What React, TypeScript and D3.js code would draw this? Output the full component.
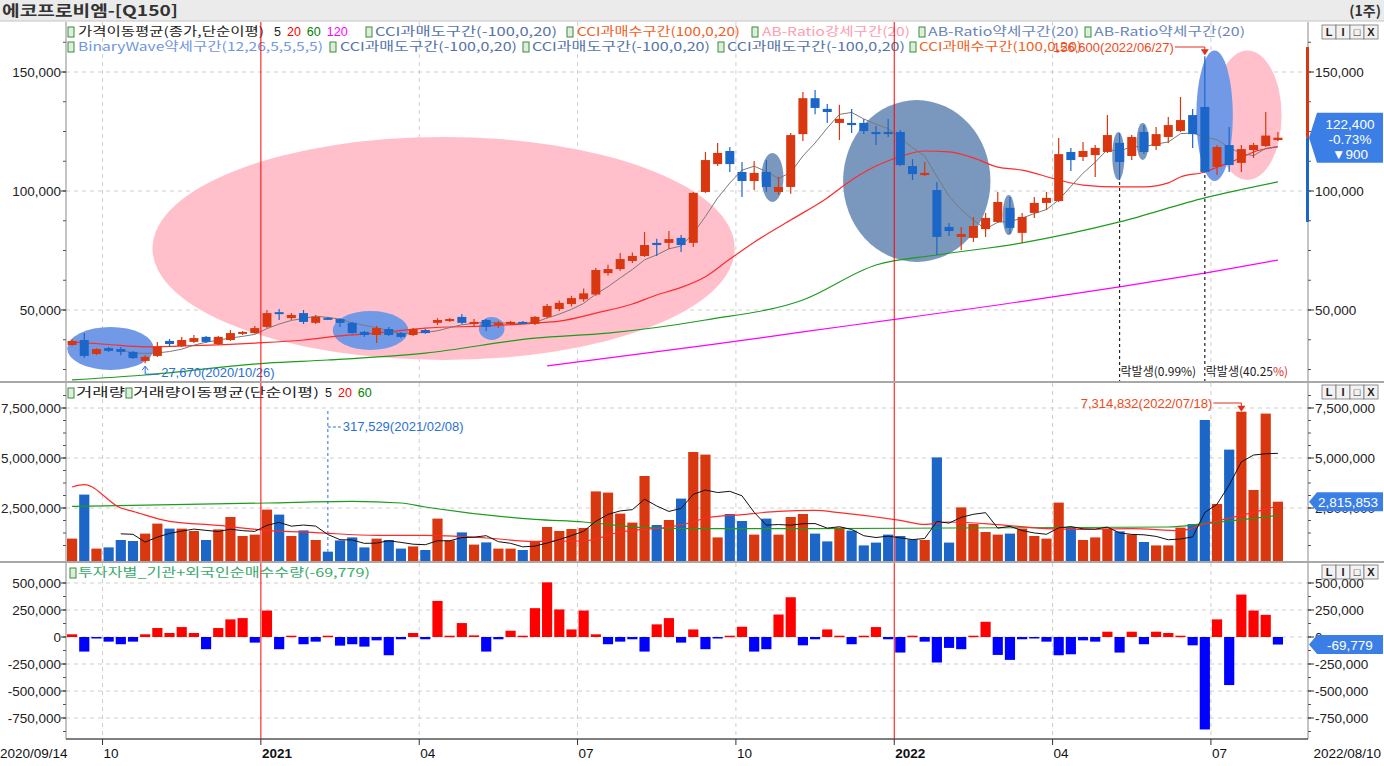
import React from "react";
import * as d3 from "d3";

// ---------------- DATA ----------------
const startLabel = "2020/09/14";
const endLabel = "2022/08/10";
const startDate = "2020-09-14";

const openP = [
  35300, 37400, 31500, 34000, 33600, 32400, 28600, 30700, 37000, 34900,
  36600, 38700, 35700, 37400, 40000, 40300, 42900, 49100, 46600, 48700,
  44600, 46700, 46200, 44600, 40800, 39500, 42000, 40300, 39500, 41600,
  44600, 45400, 47100, 44100, 45800, 44100, 44100, 45000, 44200, 47100,
  50400, 52500, 54500, 56500, 65500, 67200, 70600, 72700, 78200, 78200,
  80300, 78200, 99600, 111300, 116800, 108000, 104200, 108000, 99600, 101700,
  123900, 139000, 134500, 128600, 128600, 128600, 124800, 124800, 124800, 110500,
  106700, 100400, 84900, 80700, 80300, 84000, 87000, 92900, 82400, 90800,
  95000, 95800, 116400, 114300, 115100, 116400, 120200, 114700, 124800, 118900,
  122700, 125200, 131900, 135300, 110100, 119300, 111800, 117200, 118900, 121400,
];
const highP = [
  37800, 40300, 34000, 34500, 34500, 32800, 31000, 36600, 37800, 38700,
  39500, 39100, 39100, 41600, 41200, 43300, 50000, 50400, 48700, 50000,
  47900, 47100, 46600, 45000, 41200, 43300, 42900, 40800, 42400, 42000,
  46600, 46600, 48300, 46200, 46200, 45400, 45400, 45400, 47500, 52500,
  54000, 56000, 59000, 67600, 69000, 74000, 74200, 82800, 79900, 83200,
  81500, 99600, 116400, 120200, 118500, 112200, 112600, 113000, 105900, 124400,
  141600, 142400, 136600, 136200, 134500, 130300, 127300, 130300, 125600, 113400,
  112200, 103800, 86600, 84900, 89100, 90800, 99600, 97500, 90800, 97500,
  99600, 122300, 118100, 120600, 119300, 131900, 124400, 123500, 127700, 126900,
  131100, 139500, 134500, 156600, 119300, 126900, 119300, 120200, 133200, 124800,
];
const lowP = [
  34900, 29800, 31000, 32400, 31000, 29400, 27670, 30300, 34500, 34500,
  36100, 36100, 35300, 37000, 39500, 40000, 42400, 45800, 45800, 44100,
  44100, 45800, 42900, 40000, 38700, 36100, 39100, 38200, 39100, 40000,
  43700, 45000, 44100, 42900, 41200, 42400, 43700, 44100, 43700, 46600,
  49600, 51500, 53500, 56000, 64500, 66500, 69800, 72300, 72700, 75600,
  74400, 76500, 99200, 110500, 108000, 97500, 100400, 99600, 98400, 98800,
  121000, 132300, 128600, 121400, 124400, 123900, 119300, 122700, 110500, 104600,
  106300, 73100, 81100, 75200, 78600, 80700, 86600, 81900, 78200, 88700,
  92000, 95400, 108400, 112600, 105900, 116000, 104600, 113000, 115500, 117200,
  120200, 124800, 118100, 107600, 106700, 108000, 108000, 113900, 118500, 121000,
];
const closeP = [
  37000, 30700, 33600, 32800, 32400, 29800, 30300, 34500, 35700, 37400,
  38200, 36600, 38700, 40300, 40800, 42400, 48700, 48300, 47900, 45000,
  47100, 46200, 44600, 40300, 39500, 42400, 39500, 38700, 42000, 40300,
  45800, 46200, 44600, 45000, 42900, 44600, 45000, 44600, 47100, 51700,
  53000, 55000, 57000, 66800, 67200, 71400, 72700, 77300, 77300, 79800,
  77300, 99200, 113000, 116000, 111300, 104200, 107600, 101700, 101700, 123500,
  139000, 134900, 133200, 130300, 127700, 125200, 123900, 123900, 110900, 107100,
  107600, 80700, 83200, 81900, 85300, 88700, 95400, 84500, 89100, 95000,
  97100, 115500, 113000, 116800, 118100, 123500, 112200, 122700, 116400, 123900,
  127700, 129800, 123900, 108000, 118500, 110900, 117600, 119300, 123300, 122400,
];
const volume = [
  970000, 3170000, 470000, 530000, 900000, 850000, 1220000, 1720000, 1470000, 1470000,
  1350000, 900000, 1430000, 2050000, 1100000, 1170000, 2420000, 2170000, 1100000, 1380000,
  900000, 317529, 880000, 1030000, 530000, 970000, 900000, 470000, 580000, 400000,
  1970000, 880000, 1280000, 670000, 780000, 470000, 470000, 400000, 850000, 1550000,
  1350000, 1450000, 1500000, 3330000, 3270000, 2220000, 1770000, 4100000, 1650000, 1900000,
  2970000, 5300000, 5170000, 1030000, 2200000, 1850000, 1170000, 1970000, 1170000, 2050000,
  2200000, 1220000, 830000, 1520000, 1370000, 630000, 770000, 1170000, 1100000, 930000,
  900000, 5030000, 770000, 2530000, 1700000, 1300000, 1170000, 1220000, 1470000, 1100000,
  970000, 2770000, 1550000, 900000, 1030000, 1470000, 1330000, 1170000, 800000, 630000,
  630000, 1520000, 1700000, 6900000, 2700000, 5420000, 7314832, 3400000, 7220000, 2815853,
];
const investor = [
  25000, -135000, -9000, -43000, -67000, -43000, 25000, 83000, 37000, 92000,
  37000, -113000, 83000, 163000, 175000, -52000, 245000, -113000, 12000, -67000,
  -43000, 12000, -80000, -67000, -89000, -31000, -169000, -21000, 37000, -21000,
  334000, 12000, 129000, 15000, -135000, -21000, 58000, 12000, 267000, 506000,
  255000, 70000, 245000, 25000, -67000, -43000, -21000, -135000, 117000, 175000,
  -52000, 70000, -113000, -5000, 12000, 95000, -135000, -113000, 208000, 368000,
  -77000, -21000, 70000, 12000, -67000, 12000, 92000, -21000, -144000, 12000,
  -43000, -236000, -101000, -113000, 12000, 141000, -166000, -212000, -21000, -6000,
  -43000, -169000, -160000, -31000, -43000, 49000, -144000, 49000, -67000, 49000,
  37000, 12000, -77000, -856000, 163000, -445000, 393000, 245000, 205000, -69779,
];

// moving averages: [week index, value]
const priceMA20: [number, number][] = [
  [0, 36600], [3, 35500], [6, 34500], [10, 35000], [15, 36100], [19, 37400], [22, 39100],
  [25, 40300], [29, 42400], [34, 43300], [38, 44500], [40, 45300], [43, 48700], [46, 52500],
  [48, 56300], [50, 59500], [52, 64000], [54, 71400], [56, 78500], [59, 87800], [62, 97100],
  [64, 104600], [66, 110500], [68, 114500], [70, 116800], [72, 116400], [74, 113900],
  [76, 110000], [78, 108800], [81, 104600], [83, 102500], [86, 101700], [88, 101700],
  [90, 103400], [91, 105900], [93, 108000], [94, 110000], [96, 114000], [97, 116400], [99, 118500],
];
const priceMA60: [number, number][] = [
  [0, 20600], [6, 22700], [16, 27700], [21, 29000], [29, 31900], [38, 38200], [44, 40300],
  [52, 45800], [60, 54200], [66, 68900], [71, 73100], [78, 78200], [86, 87000], [93, 97100], [99, 103800],
];
const priceMA120: [number, number][] = [
  [39, 26500], [52, 35100], [60, 40800], [68, 46400], [76, 52100], [86, 59700], [93, 65500], [99, 71000],
];
const volMA20: [number, number][] = [
  [0, 3550000], [1, 3670000], [4, 2500000], [5, 2330000], [8, 1830000], [12, 1630000], [16, 1380000],
  [20, 1270000], [25, 1130000], [29, 1130000], [34, 1000000], [38, 830000], [42, 850000], [45, 1300000],
  [49, 1550000], [51, 1800000], [52, 2000000], [55, 2170000], [58, 2330000], [61, 2380000], [63, 2270000],
  [68, 1880000], [70, 1680000], [72, 1800000], [76, 1670000], [80, 1470000], [83, 1430000], [87, 1470000],
  [91, 1370000], [93, 1700000], [96, 2130000], [99, 2600000],
];
const volMA60: [number, number][] = [
  [0, 2580000], [16, 2750000], [23, 2830000], [27, 2750000], [29, 2550000], [38, 1930000], [42, 1800000],
  [47, 1520000], [51, 1470000], [61, 1470000], [72, 1500000], [90, 1550000], [93, 1720000], [99, 2130000],
];

// signal zones (week-index range, price range)
const zones = [
  { from: 6.6, to: 54.4, hi: 122700, lo: 29000, kind: "pink" },
  { from: -0.4, to: 6.7, hi: 42900, lo: 24800, kind: "blue" },
  { from: 21.4, to: 27.6, hi: 49600, lo: 33200, kind: "blue" },
  { from: 33.4, to: 35.5, hi: 47100, lo: 37400, kind: "blue" },
  { from: 56.6, to: 58.4, hi: 116000, lo: 95400, kind: "slate" },
  { from: 63.3, to: 75.4, hi: 138200, lo: 70200, kind: "slate" },
  { from: 76.4, to: 77.4, hi: 98300, lo: 81500, kind: "slate" },
  { from: 85.4, to: 86.4, hi: 124800, lo: 104600, kind: "slate" },
  { from: 87.4, to: 88.4, hi: 128600, lo: 113000, kind: "slate" },
  { from: 93.7, to: 99.3, hi: 159000, lo: 104600, kind: "pink" },
  { from: 92.3, to: 95.3, hi: 159000, lo: 104200, kind: "blue" },
];

const monthTickIdx = [3, 16, 29, 42, 55, 68, 81, 94];
const monthTickLabels = ["10", "2021", "04", "07", "10", "2022", "04", "07"];
const yearTickIdx = [16, 68];
const priceTicks = [50000, 100000, 150000];
const volTicks = [2500000, 5000000, 7500000];
const invTicks = [-750000, -500000, -250000, 0, 250000, 500000];

const lowDate = "2020/10/26";
const highDate = "2022/06/27";
const volMaxDate = "2022/07/18";
const volMinDate = "2021/02/08";
const rightsIdx = [86, 93];
const rightsLabels = ["락발생(0.99%)", "락발생(40.25%)"];
const currentPrice = 122400;
const priceChange = -900;
const priceChangePct = "-0.73%";
const rangeBar = [87000, 122400, 160500];

// ---------------- STYLE ----------------
const RED = "#d9370f";
const BLUE = "#1c66c8";
const KF = "'Noto Sans CJK KR', 'Noto Sans', sans-serif";
const NF = "'Liberation Sans', Arial, sans-serif";
const zoneFill: Record<string, string> = { pink: "#ffc0cb", blue: "#7299e6", slate: "#7a97bd" };

const fmt = (v: number) => d3.format(",")(v).replace("\u2212", "-");
const weekIndex = (s: string) =>
  Math.round((new Date(s.replace(/\//g, "-")).getTime() - new Date(startDate).getTime()) / (7 * 864e5));

function Buttons({ y }: { y: number }) {
  const glyphs = ["L", "I", "\u25A1", "X"];
  return (
    <g>
      {glyphs.map((g, k) => (
        <g key={k}>
          <rect x={1322 + k * 14} y={y} width={14} height={14} fill="#f2f2f2" stroke="#777" strokeWidth={0.8} />
          <text x={1329 + k * 14} y={y + 11} fontSize={11} fontFamily={NF} textAnchor="middle" fill="#222" fontWeight="bold">{g}</text>
        </g>
      ))}
    </g>
  );
}

function Icon({ x, y }: { x: number; y: number }) {
  return <rect x={x} y={y - 9} width={6} height={10} fill="#dcefdc" stroke="#3c8c3c" strokeWidth={1} />;
}

export default function App() {
  const N = closeP.length;
  const L = 66, R = 1308;
  const PT = 22, PB = 381, VT = 383, VB = 561, IT = 563, IB = 739;

  const x = d3.scaleBand<number>().domain(d3.range(N)).range([66, 1284]);
  const bw = x.bandwidth();
  const cx = (i: number) => (x(i) as number) + bw / 2;
  const xi = d3.scaleLinear().domain([0, N - 1]).range([cx(0), cx(N - 1)]);
  const yP = d3.scaleLinear().domain([50000, 150000]).range([310, 72]);
  const yV = d3.scaleLinear().domain([0, 7500000]).range([558, 408]);
  const yI = d3.scaleLinear().domain([-750000, 500000]).range([718, 583]);

  const ma = (a: number[], n: number) =>
    a.map((_, i) => (i < n - 1 ? null : (d3.mean(a.slice(i - n + 1, i + 1)) as number)));
  const ma5P = ma(closeP, 5);
  const ma5V = ma(volume, 5);

  const idxLine = (ys: (v: number) => number) =>
    d3.line<number | null>().defined((d) => d != null).x((_, i) => cx(i)).y((d) => ys(d as number));
  const ptLine = (ys: (v: number) => number) =>
    d3.line<[number, number]>().x((d) => xi(d[0])).y((d) => ys(d[1])).curve(d3.curveMonotoneX);

  const up = (i: number) => closeP[i] >= openP[i];
  const cw = 9;
  const vw = bw - 2;

  const lowIdx = weekIndex(lowDate);
  const highIdx = weekIndex(highDate);
  const vMaxIdx = weekIndex(volMaxDate);
  const vMinIdx = weekIndex(volMinDate);

  const priceMinor = d3.range(25000, 170000, 12500);
  const volMinor = d3.range(625000, 8200000, 625000);
  const invMinor = d3.range(-875000, 560000, 125000);

  const LFS = 12;
  const row1 = [
    { x: 78, t: "가격이동평균(종가,단순이평)", c: "#222", w: 186 },
    { icon: 366, x: 375, t: "CCI과매도구간(-100,0,20)", c: "#5573a8", w: 182 },
    { icon: 567, x: 577, t: "CCI과매수구간(100,0,20)", c: "#f2601e", w: 163 },
    { icon: 752, x: 762, t: "AB-Ratio강세구간(20)", c: "#ff9db0", w: 148 },
    { icon: 919, x: 928, t: "AB-Ratio약세구간(20)", c: "#6a86b8", w: 151 },
    { icon: 1085, x: 1094, t: "AB-Ratio약세구간(20)", c: "#6a86b8", w: 151 },
  ];
  const row2 = [
    { icon: 68, x: 78, t: "BinaryWave약세구간(12,26,5,5,5,5)", c: "#7096e0", w: 245 },
    { icon: 330, x: 340, t: "CCI과매도구간(-100,0,20)", c: "#5573a8", w: 177 },
    { icon: 523, x: 532, t: "CCI과매도구간(-100,0,20)", c: "#5573a8", w: 178 },
    { icon: 718, x: 727, t: "CCI과매도구간(-100,0,20)", c: "#5573a8", w: 178 },
    { icon: 910, x: 919, t: "CCI과매수구간(100,0,20)", c: "#f2601e", w: 163 },
  ];

  const priceBoxY = yP(currentPrice);
  const volBoxY = yV(volume[N - 1]);
  const invBoxY = yI(investor[N - 1]);
  const tagPath = (yc: number, h: number) =>
    `M1309,${yc} L1317,${yc - h / 2} L1383,${yc - h / 2} L1383,${yc + h / 2} L1317,${yc + h / 2} Z`;

  return (
    <svg width={1384} height={766} style={{ position: "absolute", left: 0, top: 0, background: "#fff" }}>
      <defs>
        <clipPath id="cp"><rect x={L} y={PT} width={R - L} height={PB - PT} /></clipPath>
        <clipPath id="cv"><rect x={L} y={VT} width={R - L} height={VB - VT} /></clipPath>
        <clipPath id="ci"><rect x={L} y={IT} width={R - L} height={IB - IT} /></clipPath>
      </defs>
      <rect x={0} y={0} width={1384} height={766} fill="#fff" />
      {/* title bar */}
      <rect x={0} y={0} width={1384} height={21} fill="#ebebeb" />
      <line x1={0} x2={1384} y1={21} y2={21} stroke="#c4c4c4" />
      <text x={2} y={16} fontFamily={KF} fontSize={15} fontWeight="bold" fill="#333" textLength={176} lengthAdjust="spacingAndGlyphs">에코프로비엠-[Q150]</text>
      <text x={1381} y={16} fontFamily={KF} fontSize={14} fontWeight="bold" fill="#333" textAnchor="end">(1주)</text>

      {/* horizontal grids */}
      {priceTicks.map((t) => (
        <line key={"gp" + t} x1={L} x2={R} y1={yP(t)} y2={yP(t)} stroke="#cfcfcf" strokeDasharray="4,4" />
      ))}
      {volTicks.map((t) => (
        <line key={"gv" + t} x1={L} x2={R} y1={yV(t)} y2={yV(t)} stroke="#cfcfcf" strokeDasharray="4,4" />
      ))}
      {invTicks.map((t) => (
        <line key={"gi" + t} x1={L} x2={R} y1={yI(t)} y2={yI(t)} stroke="#cfcfcf" strokeDasharray="4,4" />
      ))}
      {/* vertical month grids */}
      {monthTickIdx.map((ti, k) =>
        yearTickIdx.includes(ti) ? null : (
          <g key={"vg" + k}>
            {[[PT, PB], [VT, VB], [IT, IB]].map(([a, b], j) => (
              <line key={j} x1={x(ti)} x2={x(ti)} y1={a} y2={b} stroke="#cfcfcf" strokeDasharray="4,4" />
            ))}
          </g>
        )
      )}

      {/* ---------- price panel ---------- */}
      <g clipPath="url(#cp)">
        {zones.map((z, k) => (
          <ellipse
            key={"z" + k}
            cx={(xi(z.from) + xi(z.to)) / 2}
            cy={(yP(z.hi) + yP(z.lo)) / 2}
            rx={(xi(z.to) - xi(z.from)) / 2}
            ry={(yP(z.lo) - yP(z.hi)) / 2}
            fill={zoneFill[z.kind]}
          />
        ))}
        <path d={ptLine(yP)(priceMA120) || ""} fill="none" stroke="#ff00ff" strokeWidth={1.2} />
        <path d={ptLine(yP)(priceMA60) || ""} fill="none" stroke="#1f9a1f" strokeWidth={1.2} />
        <path d={ptLine(yP)(priceMA20) || ""} fill="none" stroke="#ff2a2a" strokeWidth={1.2} />
        <path d={idxLine(yP)(ma5P) || ""} fill="none" stroke="#7a7a7a" strokeWidth={1} />
        {closeP.map((c, i) => {
          const col = up(i) ? RED : BLUE;
          const top = yP(Math.max(openP[i], c));
          const bot = yP(Math.min(openP[i], c));
          return (
            <g key={"c" + i}>
              <line x1={cx(i)} x2={cx(i)} y1={yP(highP[i])} y2={yP(lowP[i])} stroke={col} strokeWidth={1.2} />
              <rect x={cx(i) - cw / 2} y={top} width={cw} height={Math.max(2, bot - top)} fill={col} />
            </g>
          );
        })}
        {rightsIdx.map((ri, k) => (
          <g key={"r" + k}>
            <line x1={cx(ri)} x2={cx(ri)} y1={yP(lowP[ri]) + 2} y2={PB} stroke="#222" strokeDasharray="3,3" strokeWidth={1.2} />
          </g>
        ))}
      </g>
      {rightsIdx.map((ri, k) => (
        <text key={"rt" + k} x={cx(ri) + 1} y={376} fontFamily={KF} fontSize={12} fill="#222">
          {rightsLabels[k].slice(0, -2)}
          <tspan fill={k === 1 ? "#e0301a" : "#222"}>{rightsLabels[k].slice(-2)}</tspan>
        </text>
      ))}

      {/* low annotation */}
      <g stroke="#2a6fd6" fill="none">
        <path d={`M${cx(lowIdx)},${yP(lowP[lowIdx]) + 3} L${cx(lowIdx)},${yP(lowP[lowIdx]) + 11} L${cx(lowIdx) + 14},${yP(lowP[lowIdx]) + 11}`} />
        <path d={`M${cx(lowIdx) - 3},${yP(lowP[lowIdx]) + 7} L${cx(lowIdx)},${yP(lowP[lowIdx]) + 3} L${cx(lowIdx) + 3},${yP(lowP[lowIdx]) + 7}`} />
      </g>
      <text x={cx(lowIdx) + 16} y={yP(lowP[lowIdx]) + 14} fontFamily={NF} fontSize={13} fill="#2a6fd6">
        {fmt(lowP[lowIdx])}({lowDate})
      </text>

      {/* legends price */}
      {row1.map((r, k) => (
        <g key={"l1" + k}>
          {r.icon !== undefined && <Icon x={r.icon} y={36} />}
          <text x={r.x} y={36} fontFamily={KF} fontSize={LFS} fill={r.c} textLength={r.w} lengthAdjust="spacingAndGlyphs">{r.t}</text>
        </g>
      ))}
      <Icon x={68} y={36} />
      <text x={274} y={36} fontFamily={NF} fontSize={12.5}>
        <tspan fill="#222">5</tspan>
        <tspan fill="#ff0000" dx={6}>20</tspan>
        <tspan fill="#008000" dx={6}>60</tspan>
        <tspan fill="#ff00ff" dx={6}>120</tspan>
      </text>
      {row2.map((r, k) => (
        <g key={"l2" + k}>
          <Icon x={r.icon} y={51} />
          <text x={r.x} y={51} fontFamily={KF} fontSize={LFS} fill={r.c} textLength={r.w} lengthAdjust="spacingAndGlyphs">{r.t}</text>
        </g>
      ))}
      {/* high annotation */}
      <text x={cx(highIdx) - 31} y={52} fontFamily={NF} fontSize={13} fill="#ee4a22" textAnchor="end">
        {fmt(highP[highIdx])}({highDate})
      </text>
      <path d={`M${cx(highIdx) - 30},${47} L${cx(highIdx)},${47} L${cx(highIdx)},${yP(highP[highIdx]) - 2}`} fill="none" stroke="#e0301a" />
      <path d={`M${cx(highIdx) - 4},${yP(highP[highIdx]) - 7} L${cx(highIdx) + 4},${yP(highP[highIdx]) - 7} L${cx(highIdx)},${yP(highP[highIdx]) - 1} Z`} fill="#e0301a" />

      {/* ---------- volume panel ---------- */}
      <g clipPath="url(#cv)">
        {volume.map((v, i) => (
          <rect key={"v" + i} x={cx(i) - vw / 2} y={yV(v)} width={vw} height={yV(0) - yV(v) + 3} fill={up(i) ? RED : BLUE} />
        ))}
        <path d={ptLine(yV)(volMA60) || ""} fill="none" stroke="#1f9a1f" strokeWidth={1.2} />
        <path d={ptLine(yV)(volMA20) || ""} fill="none" stroke="#ff2a2a" strokeWidth={1.2} />
        <path d={idxLine(yV)(ma5V) || ""} fill="none" stroke="#111" strokeWidth={1} />
        <line x1={cx(vMinIdx)} x2={cx(vMinIdx)} y1={411} y2={yV(volume[vMinIdx])} stroke="#2a6fd6" strokeDasharray="3,3" />
        <line x1={cx(vMinIdx)} x2={cx(vMinIdx) + 13} y1={427} y2={427} stroke="#2a6fd6" strokeDasharray="3,2" />
      </g>
      <text x={cx(vMinIdx) + 15} y={431} fontFamily={NF} fontSize={13} fill="#2a6fd6">
        {fmt(volume[vMinIdx])}({volMinDate})
      </text>
      <text x={cx(vMaxIdx) - 29} y={408} fontFamily={NF} fontSize={13} fill="#ee4a22" textAnchor="end">
        {fmt(volume[vMaxIdx])}({volMaxDate})
      </text>
      <path d={`M${cx(vMaxIdx) - 28},403 L${cx(vMaxIdx)},403 L${cx(vMaxIdx)},${yV(volume[vMaxIdx]) - 2}`} fill="none" stroke="#e0301a" />
      <path d={`M${cx(vMaxIdx) - 4},${yV(volume[vMaxIdx]) - 6} L${cx(vMaxIdx) + 4},${yV(volume[vMaxIdx]) - 6} L${cx(vMaxIdx)},${yV(volume[vMaxIdx])} Z`} fill="#e0301a" />
      <Icon x={68} y={397} />
      <text x={76} y={397} fontFamily={KF} fontSize={LFS} fill="#222" textLength={49} lengthAdjust="spacingAndGlyphs">거래량</text>
      <Icon x={126} y={397} />
      <text x={133} y={397} fontFamily={KF} fontSize={LFS} fill="#222" textLength={186} lengthAdjust="spacingAndGlyphs">거래량이동평균(단순이평)</text>
      <text x={325} y={397} fontFamily={NF} fontSize={12.5}>
        <tspan fill="#222">5</tspan>
        <tspan fill="#ff0000" dx={6}>20</tspan>
        <tspan fill="#008000" dx={6}>60</tspan>
      </text>

      {/* ---------- investor panel ---------- */}
      <g clipPath="url(#ci)">
        {investor.map((v, i) => (
          <rect key={"iv" + i} x={cx(i) - vw / 2} y={Math.min(yI(v), yI(0))} width={vw} height={Math.max(1.5, Math.abs(yI(v) - yI(0)))} fill={v >= 0 ? "#ff0000" : "#0000ff"} />
        ))}
      </g>
      <Icon x={70} y={577} />
      <text x={78} y={577} fontFamily={KF} fontSize={LFS} fill="#3aaa6a" textLength={292} lengthAdjust="spacingAndGlyphs">
        투자자별_기관+외국인순매수수량({fmt(investor[N - 1])})
      </text>

      {/* year lines */}
      {yearTickIdx.map((ti) => (
        <line key={"yl" + ti} x1={x(ti)} x2={x(ti)} y1={PT} y2={IB} stroke="#ff0000" strokeWidth={1} />
      ))}

      {/* frame */}
      <line x1={L} x2={L} y1={PT} y2={IB} stroke="#8a8a8a" />
      <line x1={R} x2={R} y1={PT} y2={IB} stroke="#8a8a8a" />
      <line x1={0} x2={1384} y1={382} y2={382} stroke="#a8a8a8" strokeWidth={2} />
      <line x1={0} x2={1384} y1={562} y2={562} stroke="#a8a8a8" strokeWidth={2} />
      <line x1={L} x2={R} y1={IB} y2={IB} stroke="#555" strokeWidth={1.5} />

      {/* left & right axes */}
      {[{ s: yP, ticks: priceTicks, minor: priceMinor, a: PT, b: PB },
        { s: yV, ticks: volTicks, minor: volMinor, a: VT, b: VB },
        { s: yI, ticks: invTicks, minor: invMinor, a: IT, b: IB }].map((ax, k) => (
        <g key={"ax" + k}>
          {ax.minor.filter((t) => ax.s(t) > ax.a + 2 && ax.s(t) < ax.b - 2).map((t) => (
            <g key={"m" + t}>
              <line x1={L - 3} x2={L} y1={ax.s(t)} y2={ax.s(t)} stroke="#555" />
              <line x1={R} x2={R + 3} y1={ax.s(t)} y2={ax.s(t)} stroke="#555" />
            </g>
          ))}
          {ax.ticks.map((t) => (
            <g key={"t" + t}>
              <line x1={L - 5} x2={L} y1={ax.s(t)} y2={ax.s(t)} stroke="#333" />
              <line x1={R} x2={R + 6} y1={ax.s(t)} y2={ax.s(t)} stroke="#333" />
              <text x={L - 5} y={ax.s(t) + 5} fontFamily={NF} fontSize={13.5} textAnchor="end" fill="#222">{fmt(t)}</text>
              <text x={R + 7} y={ax.s(t) + 5} fontFamily={NF} fontSize={13.5} fill="#222">{fmt(t)}</text>
            </g>
          ))}
        </g>
      ))}

      {/* right range bar */}
      <rect x={R - 2} y={yP(rangeBar[2])} width={3} height={yP(rangeBar[1]) - yP(rangeBar[2])} fill="#d9370f" />
      <rect x={R - 2} y={yP(rangeBar[1])} width={3} height={yP(rangeBar[0]) - yP(rangeBar[1])} fill="#1c66c8" />

      {/* value tags */}
      <path d={tagPath(priceBoxY, 50)} fill="#3b7fe6" />
      <text x={1350} y={priceBoxY - 9} fontFamily={NF} fontSize={13.5} fill="#fff" textAnchor="middle">{fmt(currentPrice)}</text>
      <text x={1350} y={priceBoxY + 6} fontFamily={NF} fontSize={13.5} fill="#fff" textAnchor="middle">{priceChangePct}</text>
      <text x={1350} y={priceBoxY + 21} fontFamily={NF} fontSize={13.5} fill="#fff" textAnchor="middle">{"\u25BC" + fmt(Math.abs(priceChange))}</text>
      <path d={tagPath(volBoxY, 19)} fill="#3b7fe6" />
      <text x={1348} y={volBoxY + 5} fontFamily={NF} fontSize={13.5} fill="#fff" textAnchor="middle">{fmt(volume[N - 1])}</text>
      <path d={tagPath(invBoxY, 19)} fill="#3b7fe6" />
      <text x={1350} y={invBoxY + 5} fontFamily={NF} fontSize={13.5} fill="#fff" textAnchor="middle">{fmt(investor[N - 1])}</text>

      <Buttons y={25} />
      <Buttons y={385} />
      <Buttons y={565} />

      {/* x axis */}
      {monthTickIdx.map((ti, k) => (
        <g key={"xt" + k}>
          <line x1={x(ti)} x2={x(ti)} y1={IB} y2={IB + 6} stroke="#333" />
          <text x={(x(ti) as number) + 1} y={758} fontFamily={NF} fontSize={13.5} fill="#111" fontWeight={yearTickIdx.includes(ti) ? "bold" : "normal"}>
            {monthTickLabels[k]}
          </text>
        </g>
      ))}
      <text x={0} y={758} fontFamily={NF} fontSize={13.5} fill="#111">{startLabel}</text>
      <text x={1381} y={758} fontFamily={NF} fontSize={13.5} fill="#111" textAnchor="end">{endLabel}</text>
    </svg>
  );
}
